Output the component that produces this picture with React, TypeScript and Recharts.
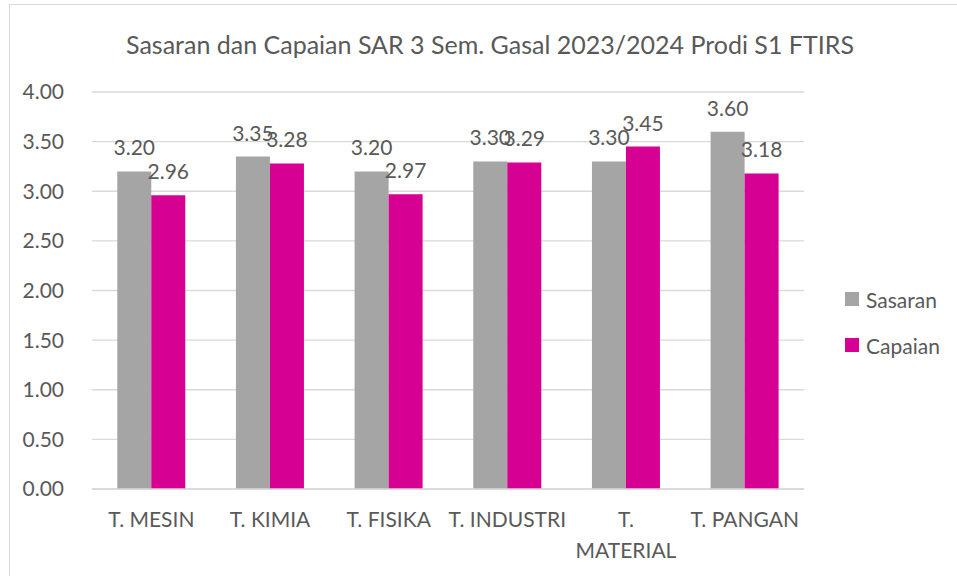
import { BarChart, Bar, XAxis, YAxis, CartesianGrid, LabelList } from 'recharts';

const categories = ['T. MESIN', 'T. KIMIA', 'T. FISIKA', 'T. INDUSTRI', 'T. MATERIAL', 'T. PANGAN'];
const categoryLines = [['T. MESIN'], ['T. KIMIA'], ['T. FISIKA'], ['T. INDUSTRI'], ['T.', 'MATERIAL'], ['T. PANGAN']];
const sasaran = [3.2, 3.35, 3.2, 3.3, 3.3, 3.6];
const capaian = [2.96, 3.28, 2.97, 3.29, 3.45, 3.18];
const yTicks = [0, 0.5, 1, 1.5, 2, 2.5, 3, 3.5, 4];

const data = categories.map((name, i) => ({ name, sasaran: sasaran[i], capaian: capaian[i] }));

const FONT = 'Lato, "Open Sans", sans-serif';
const TEXT = '#595959';
const GRAY = '#A5A5A5';
const PINK = '#D60093';

function CategoryTick(props: any) {
  const { x, y, index } = props;
  const lines = categoryLines[index] ?? [props.payload.value];
  return (
    <text x={x} y={y} textAnchor="middle" fill={TEXT} fontSize={21} fontFamily={FONT}>
      {lines.map((l: string, i: number) => (
        <tspan key={i} x={x} dy={i === 0 ? 30 : 31}>
          {l}
        </tspan>
      ))}
    </text>
  );
}

// legenda manual, supaya tidak mengurangi lebar area plot
function LegendBox() {
  const items = [
    { label: 'Sasaran', color: GRAY },
    { label: 'Capaian', color: PINK },
  ];
  return (
    <div style={{ position: 'absolute', left: 845, top: 276, fontFamily: FONT, fontSize: 21, color: TEXT }}>
      {items.map((it) => (
        <div key={it.label} style={{ display: 'flex', alignItems: 'center', height: 46 }}>
          <span style={{ width: 14, height: 14, background: it.color, marginRight: 7, display: 'inline-block' }} />
          {it.label}
        </div>
      ))}
    </div>
  );
}

export default function App() {
  return (
    <div style={{ position: 'absolute', left: 0, top: 0, width: 957, height: 576, overflow: 'hidden', background: '#fff' }}>
      <div
        style={{ position: 'absolute', left: 9, top: 4, width: 1000, height: 700, border: '1px solid #D9D9D9', boxSizing: 'border-box' }}
      />
      <div
        style={{
          position: 'absolute',
          left: 0,
          width: 980,
          top: 27,
          textAlign: 'center',
          fontFamily: FONT,
          fontSize: 25,
          color: TEXT,
          lineHeight: '34px',
        }}
      >
        Sasaran dan Capaian SAR 3 Sem. Gasal 2023/2024 Prodi S1 FTIRS
      </div>
      <BarChart
        width={957}
        height={576}
        data={data}
        margin={{ top: 92, right: 153, bottom: 0, left: 0 }}
        barCategoryGap="21.3%"
        barGap={0}
        style={{ position: 'absolute', left: 0, top: 0 }}
      >
        <CartesianGrid vertical={false} stroke="#D9D9D9" strokeWidth={1.3} />
        <XAxis
          dataKey="name"
          axisLine={{ stroke: '#D9D9D9', strokeWidth: 1.3 }}
          tickLine={false}
          height={87}
          interval={0}
          tick={<CategoryTick />}
        />
        <YAxis
          domain={[0, 4]}
          ticks={yTicks}
          axisLine={false}
          tickLine={false}
          width={92}
          tickMargin={22}
          tickFormatter={(v: number) => v.toFixed(2)}
          tick={{ fill: TEXT, fontSize: 21, fontFamily: FONT }}
        />
        <Bar dataKey="sasaran" name="Sasaran" fill={GRAY} isAnimationActive={false}>
          <LabelList
            dataKey="sasaran"
            position="top"
            offset={16}
            formatter={(v: any) => Number(v).toFixed(2)}
            fill={TEXT}
            fontSize={21}
            fontFamily={FONT}
          />
        </Bar>
        <Bar dataKey="capaian" name="Capaian" fill={PINK} isAnimationActive={false}>
          <LabelList
            dataKey="capaian"
            position="top"
            offset={16}
            formatter={(v: any) => Number(v).toFixed(2)}
            fill={TEXT}
            fontSize={21}
            fontFamily={FONT}
          />
        </Bar>
      </BarChart>
      <LegendBox />
    </div>
  );
}
